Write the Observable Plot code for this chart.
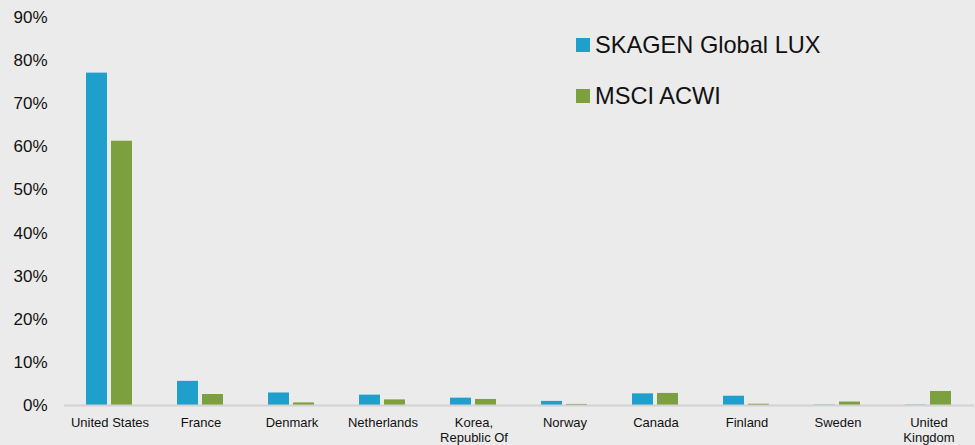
<!DOCTYPE html>
<html>
<head>
<meta charset="utf-8">
<script src="https://cdn.jsdelivr.net/npm/d3@7"></script>
<script src="https://cdn.jsdelivr.net/npm/@observablehq/plot@0.6"></script>
<style>
  html, body { margin: 0; padding: 0; background: #ebebeb; }
  #wrap { position: relative; width: 975px; height: 445px; font-family: "Liberation Sans", Arial, sans-serif; }
  .leg { position: absolute; display: flex; align-items: center; font-size: 23.6px; color: #111; white-space: nowrap; }
  .leg span.sw { display: inline-block; width: 14px; height: 14px; margin-right: 5px; }
</style>
</head>
<body>
<div id="wrap"></div>
<script>
const countries = ["United States", "France", "Denmark", "Netherlands", "Korea,\nRepublic Of", "Norway", "Canada", "Finland", "Sweden", "United\nKingdom"];
const seriesNames = ["SKAGEN Global LUX", "MSCI ACWI"];
const skagen = [77.1, 5.6, 2.9, 2.4, 1.7, 0.95, 2.7, 2.15, 0.1, 0.1];
const msci = [61.3, 2.55, 0.6, 1.3, 1.4, 0.25, 2.8, 0.3, 0.8, 3.25];
const yTicks = [0, 10, 20, 30, 40, 50, 60, 70, 80, 90];
const colors = ["#1f9fcb", "#7ca03e"];

const data = [];
countries.forEach((c, i) => {
  data.push({country: c, series: seriesNames[0], value: skagen[i]});
  data.push({country: c, series: seriesNames[1], value: msci[i]});
});

const chart = Plot.plot({
  width: 975,
  height: 445,
  marginLeft: 62,
  marginRight: 0,
  marginTop: 17,
  marginBottom: 40,
  style: {background: "#ebebeb", fontFamily: "'Liberation Sans', Arial, sans-serif", color: "#111"},
  fx: {domain: countries, padding: 0},
  x: {domain: seriesNames, paddingInner: 0.154, paddingOuter: 0.83, axis: null},
  y: {domain: [0, 90], axis: null},
  color: {domain: seriesNames, range: colors},
  marks: [
    Plot.axisY({ticks: yTicks, tickSize: 0, tickPadding: 17, fontSize: 17, tickFormat: d => d + "%", label: null}),
    Plot.axisFx({anchor: "bottom", tickSize: 0, tickPadding: 11, fontSize: 13, lineHeight: 1.15, label: null}),
    Plot.barY(data, {fx: "country", x: "series", y: "value", fill: "series"}),
    Plot.ruleY([0], {stroke: "#d2d2d2", strokeWidth: 2})
  ]
});
const wrap = document.getElementById("wrap");
wrap.appendChild(chart);

seriesNames.forEach((name, i) => {
  const d = document.createElement("div");
  d.className = "leg";
  d.style.left = "576px";
  d.style.top = (i === 0 ? 30 : 81) + "px";
  d.style.height = "30px";
  d.innerHTML = `<span class="sw" style="background:${colors[i]}"></span>${name}`;
  wrap.appendChild(d);
});
</script>
</body>
</html>
